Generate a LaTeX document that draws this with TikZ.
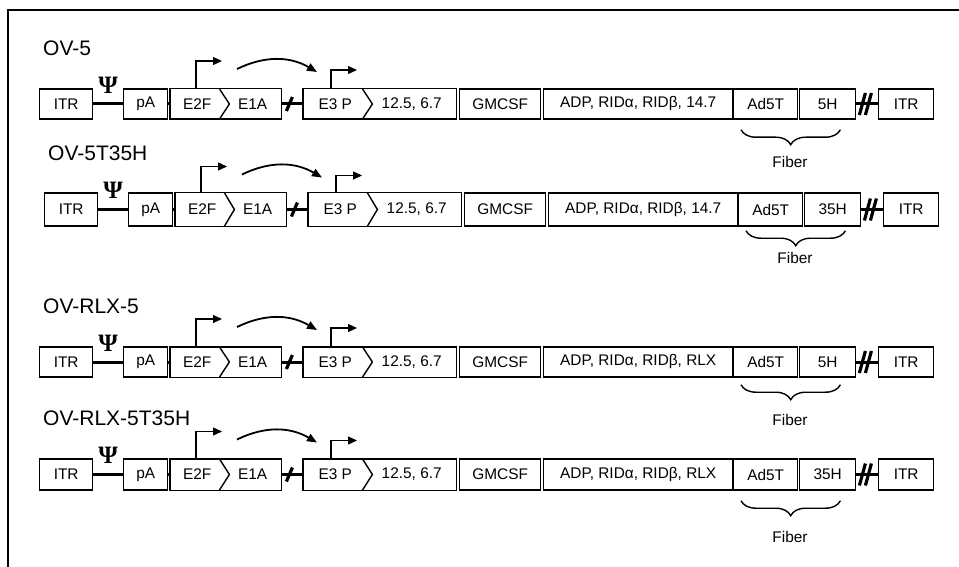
\documentclass[tikz,border=0pt]{standalone}
\usepackage{fontspec}
\setmainfont{Liberation Sans}
\newfontfamily\psifont{Liberation Serif}
\usetikzlibrary{arrows.meta,calc,decorations.pathreplacing}
\tikzset{
  gene/.style={draw, line width=1.4pt, inner sep=0pt, anchor=west, font=\fontsize{15.4}{18}\selectfont},
  seg/.style={inner sep=0pt, anchor=west, font=\fontsize{15.4}{18}\selectfont},
  outline/.style={line width=1.4pt},
  vtitle/.style={anchor=west, inner sep=0pt, font=\fontsize{21}{25}\selectfont},
  psi/.style={inner sep=0pt, font=\psifont\bfseries\fontsize{25}{25}\selectfont},
  joint/.style={line width=3pt},
  cut/.style={line width=3.2pt},
  promoter/.style={line width=1.3pt, -{Triangle[length=9pt, width=8pt]}},
  activate/.style={line width=1.8pt, -{Triangle[length=10pt, width=8pt]}},
  fiberbrace/.style={line width=1.4pt, decorate, decoration={brace, mirror, amplitude=15pt}},
  fiberlabel/.style={inner sep=0pt, font=\fontsize{15.4}{18}\selectfont},
  frame/.style={line width=2pt}
}
\begin{document}
\begin{tikzpicture}[x=1pt, y=-1pt]
  \useasboundingbox (0,0) rectangle (959,567);
  \draw[frame] (8,567) -- (8,10) -- (959,10);

  % one row per vector: number/centre y/height/shift/name/last gene/fiber head/brace gap/fiber y
  \foreach \r/\yc/\h/\dx/\vname/\last/\head/\bt/\fy in {
      1/104/30pt/0/OV-5/14.7/5H/10/58,
      2/209.5/33pt/5/OV-5T35H/14.7/35H/4/48,
      3/362/30pt/0/OV-RLX-5/RLX/5H/7/58,
      4/474.5/31pt/0/OV-RLX-5T35H/RLX/35H/10/62}{
    \begin{scope}[shift={(\dx,\yc)}]
      \node[vtitle] (title\r) at (43,-56) {\vname};
      \node[gene, minimum height=\h, minimum width=53pt] (itrL\r) at (39,0) {ITR};
      \node[gene, minimum height=\h, minimum width=44pt] (pa\r) at (123,0) {pA};
      \node[seg, minimum height=\h, minimum width=54pt] (e2f\r) at (170,0) {E2F};
      \node[seg, minimum height=\h, minimum width=57pt] (e1a\r) at (224,0) {E1A};
      \node[seg, minimum height=\h, minimum width=64pt] (e3p\r) at (303,0) {E3 P};
      \node[seg, minimum height=\h, minimum width=89pt] (e3r\r) at (367,0) {12.5, 6.7};
      \node[gene, minimum height=\h, minimum width=81pt] (gm\r) at (459,0) {GMCSF};
      \node[gene, minimum height=\h, minimum width=189pt] (adp\r) at (543,0) {ADP, RIDα, RIDβ, \last};
      \node[gene, minimum height=\h, minimum width=64pt] (ad5t\r) at (733,0) {Ad5T};
      \node[gene, minimum height=\h, minimum width=56pt] (knob\r) at (799,0) {\head};
      \node[gene, minimum height=\h, minimum width=55pt] (itrR\r) at (878,0) {ITR};
      \node[psi] (psi\r) at (108,-19) {Ψ};

      % chevron boxes
      \draw[outline] (e2f\r.north west) rectangle (e1a\r.south east);
      \draw[outline] ($(e2f\r.north east)+(-5,0)$) -- ($(e2f\r.east)+(5,0)$) -- ($(e2f\r.south east)+(-5,0)$);
      \draw[outline] (e3p\r.north west) rectangle (e3r\r.south east);
      \draw[outline] ($(e3p\r.north east)+(-5,0)$) -- ($(e3p\r.east)+(5,0)$) -- ($(e3p\r.south east)+(-5,0)$);

      \draw[joint] (itrL\r) -- (pa\r);
      \draw[joint] (pa\r) -- (e2f\r);
      \draw[joint] (e1a\r) -- (e3p\r);
      \draw[joint] (knob\r) -- (itrR\r);
      \draw[cut] ($(e1a\r.east)+(5,7)$) -- ++(6,-14);
      \draw[cut] ($(knob\r.east)+(3,11)$) -- ++(6,-22);
      \draw[cut] ($(knob\r.east)+(9,11)$) -- ++(6,-22);

      % promoters
      \coordinate (tss1\r) at (222,-43);
      \coordinate (tss2\r) at (357,-34);
      \draw[promoter] ([xshift=26pt]e2f\r.north west) |- (tss1\r);
      \draw[promoter] ([xshift=28pt]e3p\r.north west) |- (tss2\r);
      \coordinate (act\r) at (237,-35);
      \coordinate (hit\r) at (317,-32);
      \draw[activate] (act\r) to[bend left=28] (hit\r);

      \draw[fiberbrace] ($(ad5t\r.south west)+(8,\bt)$) -- ($(knob\r.south east)+(-16,\bt)$);
      \node[fiberlabel] (fiber\r) at (790,\fy) {Fiber};
    \end{scope}
  }
\end{tikzpicture}
\end{document}
